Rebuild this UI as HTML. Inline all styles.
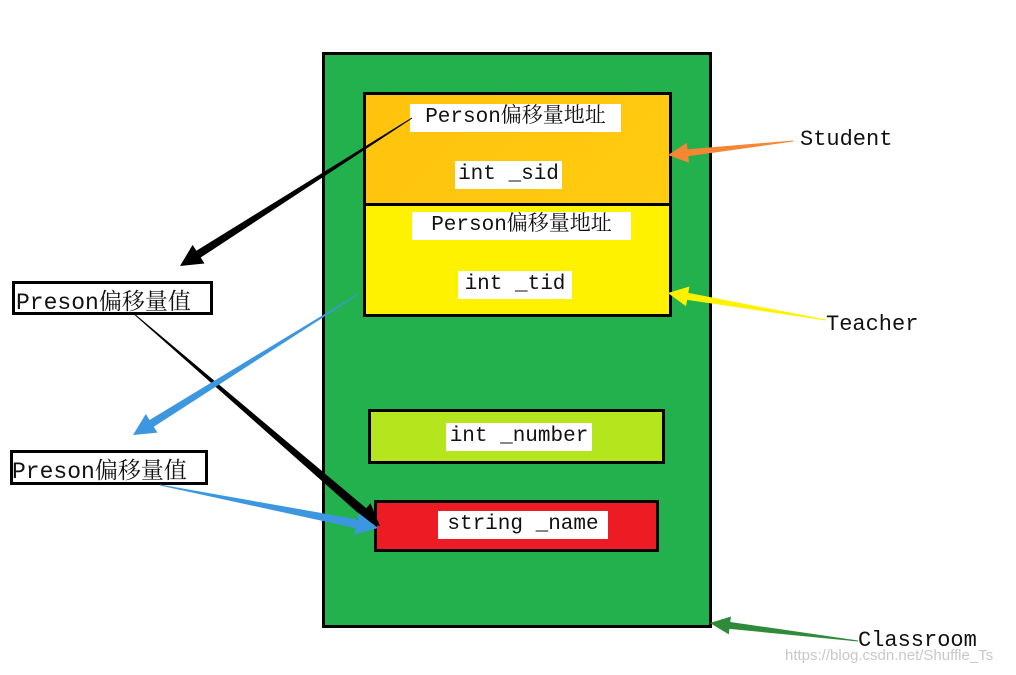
<!DOCTYPE html>
<html><head><meta charset="utf-8"><style>
body{margin:0;background:#fff;width:1016px;height:675px;overflow:hidden;position:relative;font-family:"Liberation Mono","Noto Serif CJK SC",monospace;}
.b{position:absolute;box-sizing:border-box;}
.t{position:absolute;background:#fff;font-size:21px;line-height:28px;color:#111;white-space:nowrap;text-align:center;}
.l{position:absolute;font-size:22px;color:#111;white-space:nowrap;font-family:"Liberation Mono","Noto Serif CJK SC",monospace;}
svg{position:absolute;left:0;top:0}
</style></head><body>
<div class="b" style="left:322px;top:52px;width:390px;height:576px;background:#22b14c;border:3px solid #000"></div>
<div class="b" style="left:363px;top:92px;width:309px;height:114px;background:linear-gradient(135deg,#ffc20e,#ffcc10);border:3px solid #000"></div>
<div class="b" style="left:363px;top:203px;width:309px;height:114px;background:#fff200;border:3px solid #000"></div>
<div class="b" style="left:368px;top:409px;width:297px;height:55px;background:#b5e61d;border:3px solid #000"></div>
<div class="b" style="left:374px;top:500px;width:285px;height:52px;background:#ed1c24;border:3px solid #000"></div>
<div class="t" style="left:410px;top:104px;width:211px">Person偏移量地址</div>
<div class="t" style="left:455px;top:161px;width:107px">int _sid</div>
<div class="t" style="left:412px;top:212px;width:219px">Person偏移量地址</div>
<div class="t" style="left:458px;top:271px;width:114px">int _tid</div>
<div class="t" style="left:446px;top:423px;width:146px">int _number</div>
<div class="t" style="left:438px;top:511px;width:170px">string _name</div>
<div class="b" style="left:12px;top:281px;width:201px;height:34px;border:3px solid #000;background:#fff"></div>
<div class="l" style="left:16px;top:283px;font-size:23px">Preson偏移量值</div>
<div class="b" style="left:10px;top:450px;width:198px;height:35px;border:3px solid #000;background:#fff"></div>
<div class="l" style="left:12px;top:452px;font-size:23px">Preson偏移量值</div>
<div class="l" style="left:800px;top:127px">Student</div>
<div class="l" style="left:826px;top:312px">Teacher</div>
<div class="l" style="left:858px;top:628px">Classroom</div>
<div class="l" style="left:785px;top:647px;font-size:15px;color:#c8c8c8;font-family:'Liberation Sans',sans-serif">https://blog.csdn.net/Shuffle_Ts</div>
<svg id="s" width="1016" height="675"></svg>
<script>
function arr(sx,sy,tx,ty,w0,w1,L,H,c){
var dx=tx-sx,dy=ty-sy,d=Math.hypot(dx,dy),ux=dx/d,uy=dy/d,nx=-uy,ny=ux;
var bx=tx-ux*L,by=ty-uy*L;
var p=[[sx+nx*w0/2,sy+ny*w0/2],[bx+nx*w1/2,by+ny*w1/2],[bx+nx*H/2,by+ny*H/2],[tx,ty],[bx-nx*H/2,by-ny*H/2],[bx-nx*w1/2,by-ny*w1/2],[sx-nx*w0/2,sy-ny*w0/2]];
var e=document.createElementNS("http://www.w3.org/2000/svg","polygon");
e.setAttribute("points",p.map(q=>q.join(",")).join(" "));e.setAttribute("fill",c);
document.getElementById("s").appendChild(e);}
arr(412,118,180,266,1,8,22,22,"#000");
arr(133,313,380,526,1,9,22,22,"#000");
arr(357,295,133,435,1,8,22,22,"#3d97e0");
arr(160,485,378,528,1,9,22,22,"#3d97e0");
arr(793,141,668,155,1,7,20,20,"#f58634");
arr(826,320,668,293,1,7,20,20,"#fff200");
arr(858,641,710,623,1,7,20,18,"#2e8b3a");
</script>
</body></html>
